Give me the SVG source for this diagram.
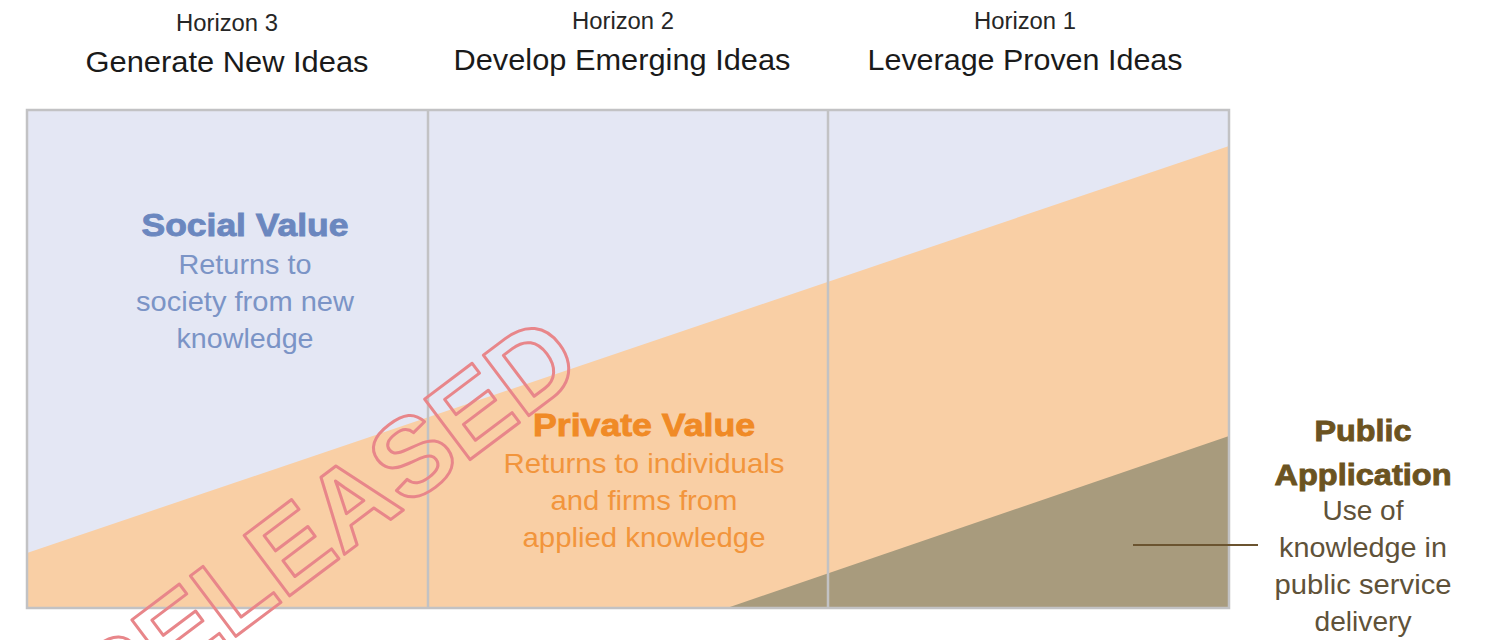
<svg xmlns="http://www.w3.org/2000/svg" width="1485" height="640" viewBox="0 0 1485 640">
<style>
text{font-family:"Liberation Sans",Arial,sans-serif;text-anchor:middle}
.hz{font-size:23px;fill:#262626}
.hd{font-size:30px;fill:#1a1a1a}
.ttl{font-size:32px;font-weight:bold;stroke-width:0.9}
.body{font-size:28px}
.soc{fill:#6b87bf;stroke:#6b87bf}
.socb{fill:#7b94c6}
.pri{fill:#f08a26;stroke:#f08a26}
.prib{fill:#f2953c}
.pub{fill:#6b5321;stroke:#6b5321;stroke-width:0.9;font-size:30px;font-weight:bold}
.pubb{fill:#5f5239}
.div{stroke:#c2c2c4;stroke-width:2.5;fill:none}
.stamp{font-size:110px;font-weight:bold;fill:none;stroke:#e8868a;stroke-width:3;stroke-linejoin:round;text-anchor:start}
</style>
<rect width="1485" height="640" fill="#ffffff"/>
<g id="headers">
<text class="hz" x="227" y="31" textLength="102" lengthAdjust="spacingAndGlyphs">Horizon 3</text>
<text class="hz" x="623" y="29" textLength="102" lengthAdjust="spacingAndGlyphs">Horizon 2</text>
<text class="hz" x="1025" y="29" textLength="102" lengthAdjust="spacingAndGlyphs">Horizon 1</text>
<text class="hd" x="227" y="72" textLength="283" lengthAdjust="spacingAndGlyphs">Generate New Ideas</text>
<text class="hd" x="622" y="70" textLength="337" lengthAdjust="spacingAndGlyphs">Develop Emerging Ideas</text>
<text class="hd" x="1025" y="70" textLength="315" lengthAdjust="spacingAndGlyphs">Leverage Proven Ideas</text>
</g>
<g id="chart">
<rect x="27" y="110" width="1202" height="498" fill="#e4e7f4"/>
<polygon points="27,553 1229,146 1229,608 27,608" fill="#f9cfa5"/>
<polygon points="727,608 1229,436 1229,608" fill="#a89b7d"/>
<line class="div" x1="428" y1="110" x2="428" y2="608"/>
<line class="div" x1="828" y1="110" x2="828" y2="608"/>
<rect class="div" x="27" y="110" width="1202" height="498"/>
</g>
<g id="social-value">
<text class="ttl soc" x="245" y="236" textLength="207" lengthAdjust="spacingAndGlyphs">Social Value</text>
<text class="body socb" x="245" y="274" textLength="133" lengthAdjust="spacingAndGlyphs">Returns to</text>
<text class="body socb" x="245" y="311" textLength="218" lengthAdjust="spacingAndGlyphs">society from new</text>
<text class="body socb" x="245" y="348" textLength="137" lengthAdjust="spacingAndGlyphs">knowledge</text>
</g>
<g id="private-value">
<text class="ttl pri" x="644" y="436" textLength="222" lengthAdjust="spacingAndGlyphs">Private Value</text>
<text class="body prib" x="644" y="473" textLength="281" lengthAdjust="spacingAndGlyphs">Returns to individuals</text>
<text class="body prib" x="644" y="510" textLength="187" lengthAdjust="spacingAndGlyphs">and firms from</text>
<text class="body prib" x="644" y="547" textLength="243" lengthAdjust="spacingAndGlyphs">applied knowledge</text>
</g>
<g id="public-application">
<text class="pub" x="1363" y="441" textLength="97" lengthAdjust="spacingAndGlyphs">Public</text>
<text class="pub" x="1363" y="485" textLength="177" lengthAdjust="spacingAndGlyphs">Application</text>
<text class="body pubb" x="1363" y="520" textLength="81" lengthAdjust="spacingAndGlyphs">Use of</text>
<text class="body pubb" x="1363" y="557" textLength="168" lengthAdjust="spacingAndGlyphs">knowledge in</text>
<text class="body pubb" x="1363" y="594" textLength="177" lengthAdjust="spacingAndGlyphs">public service</text>
<text class="body pubb" x="1363" y="631" textLength="97" lengthAdjust="spacingAndGlyphs">delivery</text>
</g>
<g id="connectors">
<line x1="1133" y1="545" x2="1258" y2="545" stroke="#6b5430" stroke-width="2"/>
</g>
<g id="stamp">
<text class="stamp" x="0" y="0" transform="translate(108,732.6) rotate(-37)">RELEASED</text>
</g>
</svg>
